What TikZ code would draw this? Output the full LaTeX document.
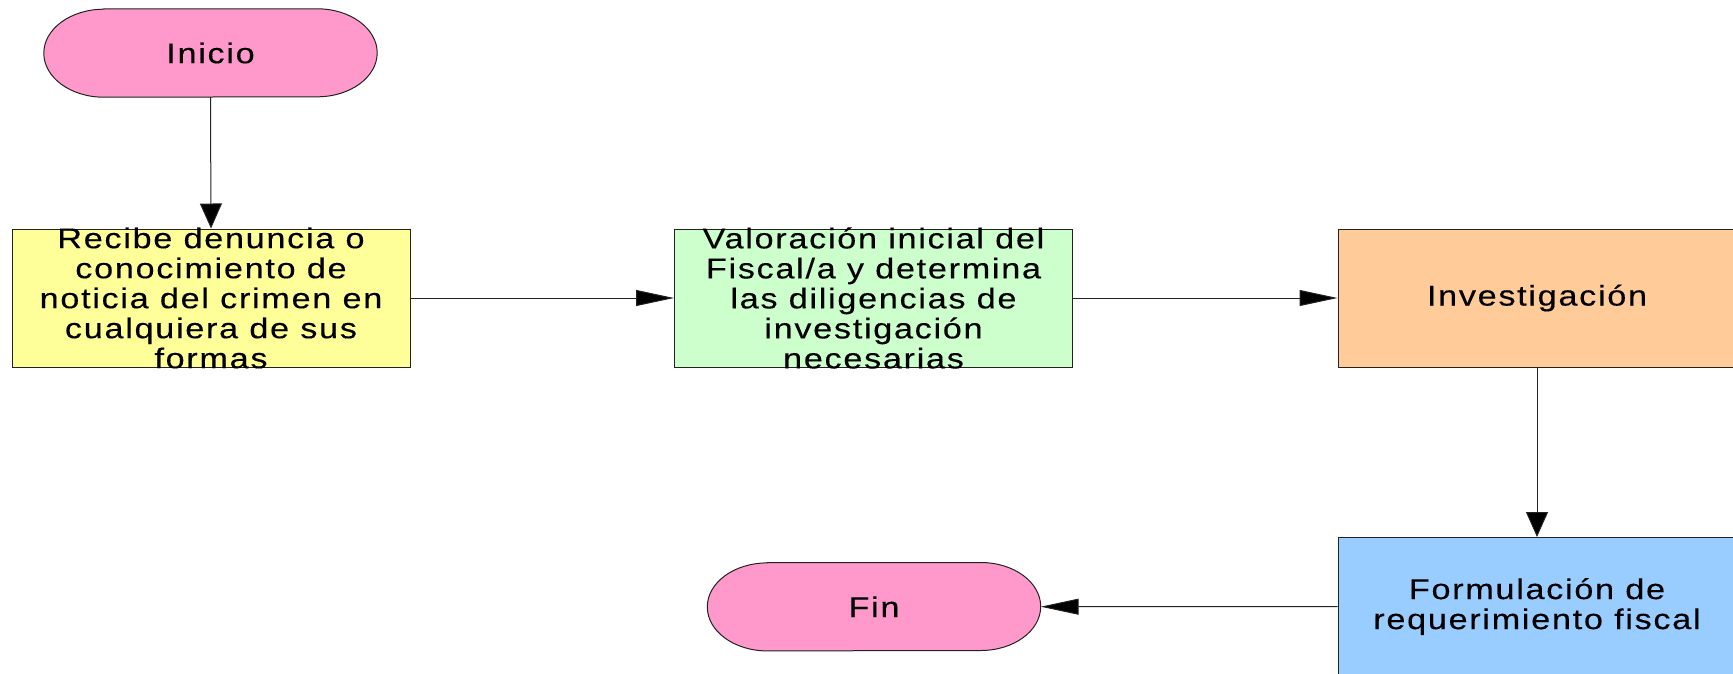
\documentclass[tikz,border=0pt]{standalone}
\usepackage{fontspec}
\usetikzlibrary{arrows.meta,backgrounds}
\newfontfamily\dfont[FakeStretch=1.2,LetterSpace=6,FakeBold=0.3]{Liberation Sans}
\definecolor{pinkc}{HTML}{FF99CC}
\definecolor{yelc}{HTML}{FFFF99}
\definecolor{grnc}{HTML}{CCFFCC}
\definecolor{orac}{HTML}{FFCC99}
\definecolor{bluc}{HTML}{99CCFF}
\definecolor{linec}{HTML}{222222}
\tikzset{
  txt/.style={align=center,inner sep=0pt,font=\dfont\fontsize{28.5}{30}\selectfont,text=black},
  stepbox/.style={draw=linec,line width=1pt,minimum width=398pt,minimum height=138pt,inner sep=0pt},
  termnode/.style={draw=none,minimum width=333pt,minimum height=88pt,inner sep=0pt,txt},
  termshape/.style={fill=pinkc,draw=linec,line width=1pt},
  harrow/.style={draw=linec,line width=1pt,-{Triangle[length=38pt,width=16pt,fill=black]}},
  varrow/.style={draw=linec,line width=1pt,-{Triangle[length=25pt,width=22pt,fill=black]}},
}
\newcommand\termpath[1]{%
  \path[termshape] ([xshift=60pt]#1.north west) -- ([xshift=-60pt]#1.north east)
    arc[start angle=90,end angle=-90,x radius=60pt,y radius=44pt]
    -- ([xshift=60pt]#1.south west)
    arc[start angle=270,end angle=90,x radius=60pt,y radius=44pt] -- cycle;}
\begin{document}
\begin{tikzpicture}[x=1pt,y=-1pt]
\useasboundingbox (0,0) rectangle (1733,673);
\clip (0,0) rectangle (1733,673);
\node[termnode] (ini) at (210.5,53) {Inicio};
\node[termnode] (fin) at (874,606.7) {Fin};
\begin{scope}[on background layer]
  \termpath{ini}
  \termpath{fin}
\end{scope}
\node[stepbox,fill=yelc,label={[txt]center:{Recibe denuncia o\\conocimiento de\\noticia del crimen en\\cualquiera de sus\\formas}}] (rec) at (211,298) {};
\node[stepbox,fill=grnc,label={[txt]center:{Valoración inicial del\\Fiscal/a y determina\\las diligencias de\\investigación\\necesarias}}] (val) at (873.5,298) {};
\node[stepbox,fill=orac,label={[txt]center:{Investigación}}] (inv) at (1537,298) {};
\node[stepbox,fill=bluc,label={[txt]center:{Formulación de\\requerimiento fiscal}}] (for) at (1537,606.5) {};
\draw[varrow] (ini.south) -- (rec.north);
\draw[harrow] (rec.east) -- (val.west);
\draw[harrow] (val.east) -- (inv.west);
\draw[varrow] (inv.south) -- (for.north);
\draw[harrow] (for.west) -- (fin.east);
\end{tikzpicture}
\end{document}
